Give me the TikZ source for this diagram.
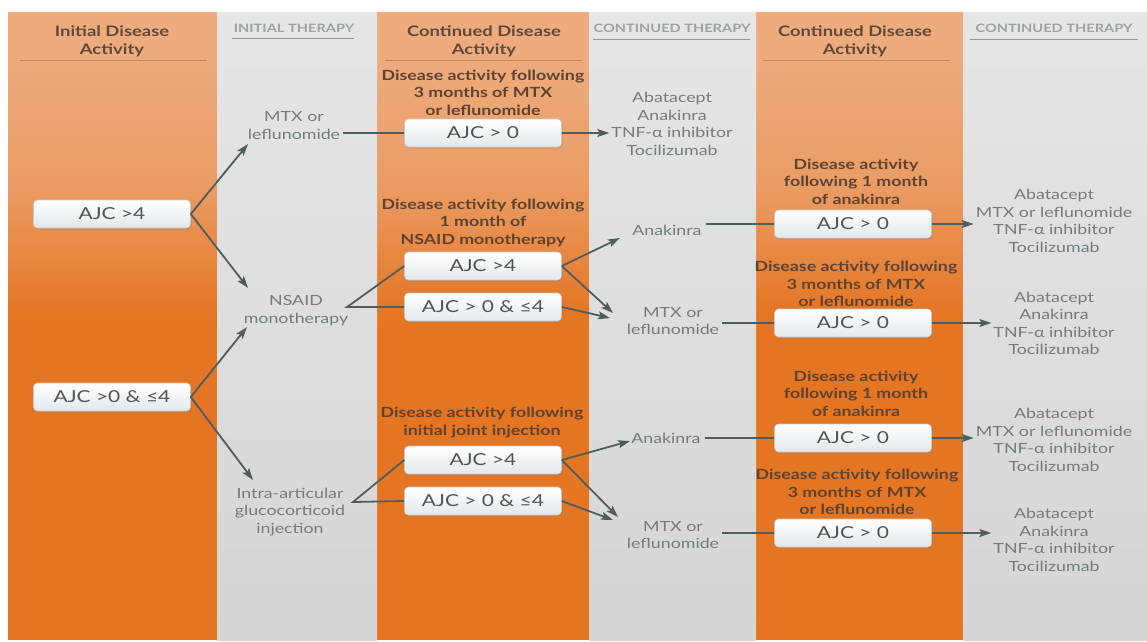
\documentclass[tikz,border=0pt]{standalone}
\usepackage{fontspec}
\setmainfont{Lato}[FakeStretch=1.27]
\usetikzlibrary{arrows.meta,shadows}
\definecolor{orL}{HTML}{EDAB7E}
\definecolor{orM}{HTML}{EA9B62}
\definecolor{orD}{HTML}{E47522}
\definecolor{grT}{HTML}{E6E6E6}
\definecolor{grB}{HTML}{D5D5D5}
\definecolor{lineC}{HTML}{4F5D5F}
\definecolor{hdrC}{HTML}{5E4A3B}
\definecolor{capC}{HTML}{9AA3A6}
\definecolor{txtC}{HTML}{737B7F}
\definecolor{boxT}{HTML}{4D5559}
\definecolor{lblC}{HTML}{5E4330}
\definecolor{boxB}{HTML}{E3E8EC}
\definecolor{boxE}{HTML}{C4C9CC}
\definecolor{ulO}{HTML}{C58658}
\definecolor{ulG}{HTML}{8E989B}
\tikzset{
 ajc/.style={rounded corners=4pt, top color=white, bottom color=boxB, draw=boxE, line width=0.6pt,
   minimum width=157pt, minimum height=28pt, inner sep=0pt, text=boxT, font=\fontsize{16.5}{18}\selectfont,
   drop shadow={opacity=0.3,shadow xshift=1pt,shadow yshift=-1.5pt}},
 hdr/.style={align=center, text=hdrC, font=\bfseries\fontsize{14.5}{18}\selectfont, inner sep=0pt},
 caphdr/.style={text=capC, font=\bfseries\fontsize{11.5}{12}\selectfont, inner sep=0pt},
 lbl/.style={align=center, text=lblC, font=\bfseries\fontsize{14}{17.5}\selectfont, inner sep=0pt},
 ther/.style={align=center, text=txtC, font=\fontsize{14}{17.5}\selectfont, inner sep=0pt},
 conn/.style={draw=lineC, line width=1.8pt},
 arr/.style={conn, -{Stealth[length=12pt,width=8pt,inset=2.5pt]}},
 ulo/.style={draw=ulO, line width=0.8pt},
 ulg/.style={draw=ulG, line width=0.8pt},
}
\begin{document}
\begin{tikzpicture}[x=1pt,y=-1pt]
\useasboundingbox[fill=white] (0,0) rectangle (1147,641);
% columns
\foreach \xa/\xb in {8/217, 377/589, 756/963}{
  \fill[orL] (\xa,12) rectangle (\xb,60);
  \shade[top color=orL,bottom color=orM] (\xa,60) rectangle (\xb,190);
  \shade[top color=orM,bottom color=orD] (\xa,190) rectangle (\xb,315);
  \fill[orD] (\xa,315) rectangle (\xb,640);
}
\foreach \xa/\xb in {217/377, 589/756, 963/1147}{
  \shade[top color=grT,bottom color=grB] (\xa,12) rectangle (\xb,640);
}
% headers
\node[hdr] (h1) at (112,41) {Initial Disease\\Activity};
\node[caphdr] (h2) at (294,28) {INITIAL THERAPY};
\node[hdr] (h3) at (484,41) {Continued Disease\\Activity};
\node[caphdr] (h4) at (672,28) {CONTINUED THERAPY};
\node[hdr] (h5) at (855,41) {Continued Disease\\Activity};
\node[caphdr] (h6) at (1054,28) {CONTINUED THERAPY};
\draw[ulo] (20,60) -- (207,60);
\draw[ulg] (232,38) -- (354,38);
\draw[ulo] (385,60) -- (582,60);
\draw[ulg] (593,39) -- (750,39);
\draw[ulo] (763,60) -- (950,60);
\draw[ulg] (970,39) -- (1138,39);
% boxes
\node[ajc] (a1) at (112,214) {AJC >4};
\node[ajc] (a2) at (112,397) {AJC >0 \& ≤4};
\node[ajc] (b1) at (483,133) {AJC > 0};
\node[ajc] (b2) at (483,266) {AJC >4};
\node[ajc] (b3) at (483,307) {AJC > 0 \& ≤4};
\node[ajc] (b4) at (483,460) {AJC >4};
\node[ajc] (b5) at (483,501) {AJC > 0 \& ≤4};
\node[ajc] (c1) at (853,224) {AJC > 0};
\node[ajc] (c2) at (853,323) {AJC > 0};
\node[ajc] (c3) at (853,438) {AJC > 0};
\node[ajc] (c4) at (853,533) {AJC > 0};
% orange labels
\node[lbl] (g1) at (483,92.5) {Disease activity following\\3 months of MTX\\or leflunomide};
\node[lbl] (g2) at (483,222.5) {Disease activity following\\1 month of\\NSAID monotherapy};
\node[lbl] (g3) at (482,422.5) {Disease activity following\\initial joint injection};
\node[lbl] (g4) at (856,181.5) {Disease activity\\following 1 month\\of anakinra};
\node[lbl] (g5) at (856,284) {Disease activity following\\3 months of MTX\\or leflunomide};
\node[lbl] (g6) at (856,393.5) {Disease activity\\following 1 month\\of anakinra};
\node[lbl] (g7) at (857,492) {Disease activity following\\3 months of MTX\\or leflunomide};
% therapy texts
\node[ther] (t1) at (294,125.5) {MTX or\\leflunomide};
\node[ther] (t2) at (296,310.5) {NSAID\\monotherapy};
\node[ther] (t3) at (290,512) {Intra-articular\\glucocorticoid\\injection};
\node[ther] (d1) at (672,124) {Abatacept\\Anakinra\\TNF-α inhibitor\\Tocilizumab};
\node[ther] (e1) at (667,230) {Anakinra};
\node[ther] (e2) at (673,321) {MTX or\\leflunomide};
\node[ther] (e3) at (666,438) {Anakinra};
\node[ther] (e4) at (673,535) {MTX or\\leflunomide};
\node[ther] (f1) at (1054,221) {Abatacept\\MTX or leflunomide\\TNF-α inhibitor\\Tocilizumab};
\node[ther] (f2) at (1054,323.5) {Abatacept\\Anakinra\\TNF-α inhibitor\\Tocilizumab};
\node[ther] (f3) at (1054,440) {Abatacept\\MTX or leflunomide\\TNF-α inhibitor\\Tocilizumab};
\node[ther] (f4) at (1054,540) {Abatacept\\Anakinra\\TNF-α inhibitor\\Tocilizumab};
% arrow tips / junctions
\coordinate (p1) at (248,144);
\coordinate (p2) at (248,288);
\coordinate (p3) at (247,327);
\coordinate (p4) at (253,480);
\coordinate (j1) at (347,307);
\coordinate (j2) at (353,502);
\coordinate (q1) at (620,238);
\coordinate (q2) at (613,313);
\coordinate (q3) at (610,318);
\coordinate (q4) at (630,441);
\coordinate (q5) at (618,517);
\coordinate (q6) at (613,520);
% connectors
\draw[arr] (a1.east) -- (p1);
\draw[arr] (a1.east) -- (p2);
\draw[arr] (a2.east) -- (p3);
\draw[arr] (a2.east) -- (p4);
\draw[conn] ([xshift=3pt]t1.east |- b1.west) -- (b1.west);
\draw[conn] (b2.west) -- (j1) -- (b3.west);
\draw[conn] (b4.west) -- (j2) -- (b5.west);
\draw[arr] (b1.east) -- ([xshift=-2pt]d1.west |- b1.east);
\draw[arr] (b2.east) -- (q1);
\draw[arr] (b2.east) -- (q2);
\draw[arr] (b3.east) -- (q3);
\draw[arr] (b4.east) -- (q4);
\draw[arr] (b4.east) -- (q5);
\draw[arr] (b5.east) -- (q6);
\draw[conn] ([xshift=4pt]e1.east |- c1.west) -- (c1.west);
\draw[conn] ([xshift=3pt]e2.east |- c2.west) -- (c2.west);
\draw[conn] ([xshift=4pt]e3.east |- c3.west) -- (c3.west);
\draw[conn] ([xshift=3pt]e4.east |- c4.west) -- (c4.west);
\draw[arr] (c1.east) -- ([xshift=-2pt]f1.west |- c1.east);
\draw[arr] (c2.east) -- ([xshift=-2pt]f2.west |- c2.east);
\draw[arr] (c3.east) -- ([xshift=-2pt]f3.west |- c3.east);
\draw[arr] (c4.east) -- ([xshift=-2pt]f4.west |- c4.east);
\end{tikzpicture}
\end{document}
